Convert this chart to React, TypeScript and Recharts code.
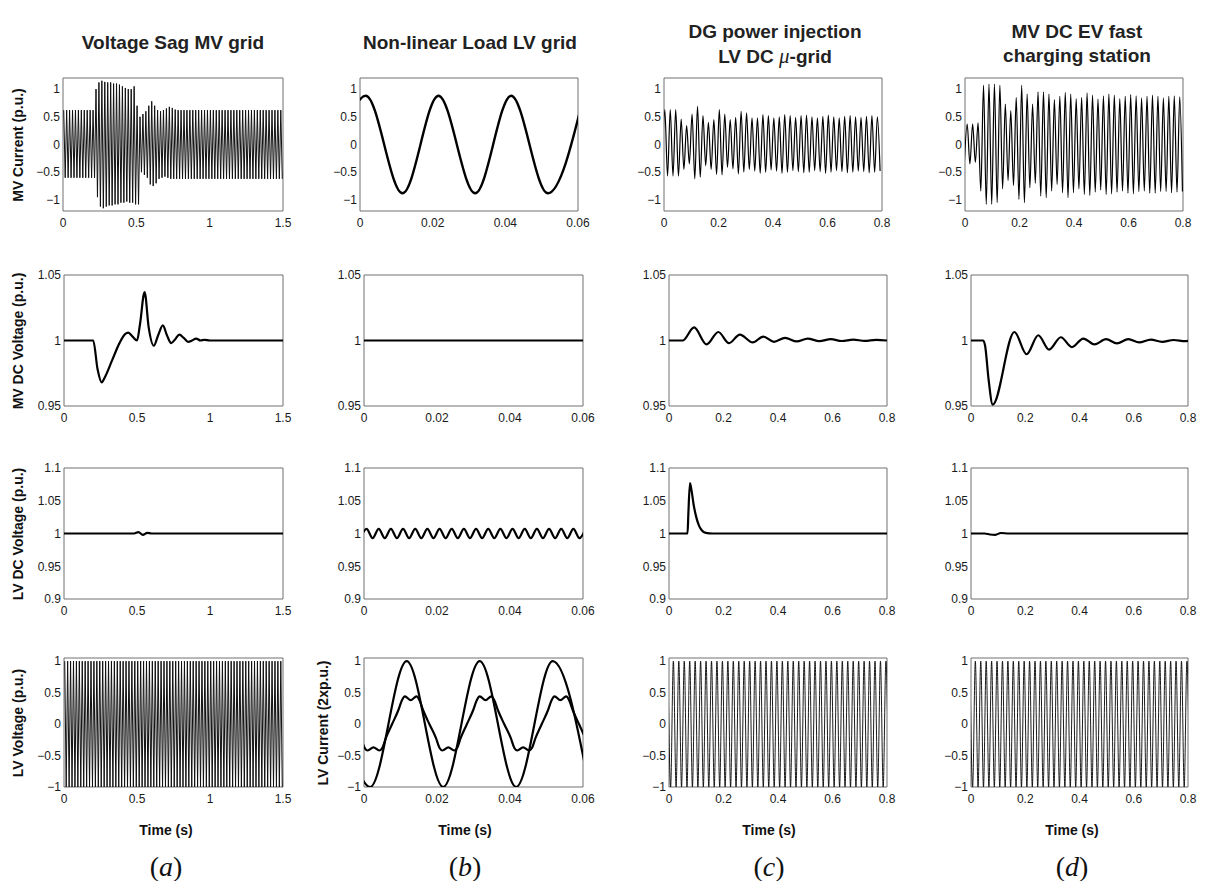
import React from 'react';
import { LineChart, Line, XAxis, YAxis, ReferenceArea } from 'recharts';

const FONT = '"Liberation Sans", Arial, Helvetica, sans-serif';

// ---------------- tick labels ----------------
const xTicksA = [0, 0.5, 1, 1.5];
const xTicksB = [0, 0.02, 0.04, 0.06];
const xTicksCD = [0, 0.2, 0.4, 0.6, 0.8];
const yTicksCurrent = [-1, -0.5, 0, 0.5, 1];
const yTicksMvDc = [0.95, 1, 1.05];
const yTicksLvDc = [0.9, 0.95, 1, 1.05, 1.1];
const yTicksLvVolt = [-1, -0.5, 0, 0.5, 1];

// ---------------- texts ----------------
const columnTitles = [
  ['Voltage Sag MV grid'],
  ['Non-linear Load LV grid'],
  ['DG power injection', 'LV DC \u03bc-grid'],
  ['MV DC EV fast', 'charging station'],
];
const rowLabels = ['MV Current (p.u.)', 'MV DC Voltage (p.u.)', 'LV DC Voltage (p.u.)', 'LV Voltage (p.u.)'];
const lvCurrentLabel = 'LV Current (2xp.u.)';
const timeLabel = 'Time (s)';
const panelLetters = ['a', 'b', 'c', 'd'];

// ---------------- column (a): voltage sag, MV grid ----------------
// MV current: successive half-cycle extremes, every 0.01 s from 0.005 s
const aMvCurrent = [
  0.62, -0.6, 0.62, -0.6, 0.62, -0.6, 0.62, -0.6, 0.62, -0.6,
  0.62, -0.6, 0.62, -0.6, 0.62, -0.6, 0.62, -0.6, 0.62, -0.6,
  0.62, -0.6,
  1.0, -0.95, 1.12, -1.12, 1.15, -1.15, 1.13, -1.12, 1.12, -1.1,
  1.12, -1.1, 1.1, -1.08, 1.1, -1.08, 1.08, -1.05, 1.05, -1.05,
  1.02, -1.03, 1.0, -1.05, 1.0, -1.05, 1.05, -1.08, 0.7, -1.08,
  0.5, -0.5, 0.55, -0.55, 0.6, -0.6, 0.7, -0.72, 0.78, -0.75,
  0.7, -0.7, 0.62, -0.62, 0.6, -0.6, 0.62, -0.58, 0.65, -0.6,
  0.68, -0.62, 0.66, -0.62, 0.63, -0.62,
  0.62, -0.62, 0.62, -0.62, 0.62, -0.62, 0.62, -0.62, 0.62, -0.62, 0.62, -0.62,
  0.62, -0.62, 0.62, -0.62, 0.62, -0.62, 0.62, -0.62, 0.62, -0.62, 0.62, -0.62,
  0.62, -0.62, 0.62, -0.62, 0.62, -0.62, 0.62, -0.62, 0.62, -0.62, 0.62, -0.62,
  0.62, -0.62, 0.62, -0.62, 0.62, -0.62, 0.62, -0.62, 0.62, -0.62, 0.62, -0.62,
  0.62, -0.62, 0.62, -0.62, 0.62, -0.62, 0.62, -0.62, 0.62, -0.62, 0.62, -0.62,
  0.62, -0.62, 0.62, -0.62, 0.62, -0.62, 0.62, -0.62, 0.62, -0.62, 0.62, -0.62,
];
const aMvDcTime = [0, 0.2, 0.23, 0.258, 0.28, 0.33, 0.38, 0.42, 0.44, 0.47, 0.5, 0.52, 0.552, 0.58, 0.615, 0.645, 0.677, 0.705, 0.734, 0.762, 0.79, 0.82, 0.85, 0.877, 0.905, 0.935, 0.96, 1.0, 1.5];
const aMvDcValue = [1, 1, 0.978, 0.968, 0.972, 0.985, 0.998, 1.005, 1.006, 1.003, 1.0, 1.012, 1.037, 1.01, 0.996, 1.004, 1.0115, 1.004, 0.998, 1.001, 1.0045, 1.002, 0.999, 1.0, 1.0015, 1.0, 1.0005, 1.0, 1.0];
const aLvDcTime = [0, 0.48, 0.51, 0.54, 0.57, 0.6, 1.5];
const aLvDcValue = [1, 1, 1.002, 0.998, 1.001, 1, 1];
// LV voltage: half-cycle extremes every 0.01 s from 0.005 s
const aLvVoltage = [
  1, -1, 1, -1, 1, -1, 1, -1, 1, -1, 1, -1, 1, -1, 1, -1, 1, -1, 1, -1,
  1, -1, 1, -1, 1, -1, 1, -1, 1, -1, 1, -1, 1, -1, 1, -1, 1, -1, 1, -1,
  1, -1, 1, -1, 1, -1, 1, -1, 1, -1, 1, -1, 1, -1, 1, -1, 1, -1, 1, -1,
  1, -1, 1, -1, 1, -1, 1, -1, 1, -1, 1, -1, 1, -1, 1, -1, 1, -1, 1, -1,
  1, -1, 1, -1, 1, -1, 1, -1, 1, -1, 1, -1, 1, -1, 1, -1, 1, -1, 1, -1,
  1, -1, 1, -1, 1, -1, 1, -1, 1, -1, 1, -1, 1, -1, 1, -1, 1, -1, 1, -1,
  1, -1, 1, -1, 1, -1, 1, -1, 1, -1, 1, -1, 1, -1, 1, -1, 1, -1, 1, -1,
  1, -1, 1, -1, 1, -1, 1, -1, 1, -1,
];

// ---------------- column (b): non-linear load, LV grid ----------------
const bMvCurrentTime = [-0.0084, 0.0016, 0.0117, 0.0216, 0.0317, 0.0416, 0.0517, 0.0616];
const bMvCurrentValue = [-0.88, 0.88, -0.88, 0.88, -0.88, 0.88, -0.88, 0.88];
const bMvDcTime = [0, 0.06];
const bMvDcValue = [1, 1];
// LV DC ripple: half-cycle extremes every 0.001667 s from -0.00097 s
const bLvDcRipple = [
  0.993, 1.007, 0.993, 1.007, 0.993, 1.007, 0.993, 1.007, 0.993, 1.007,
  0.993, 1.007, 0.993, 1.007, 0.993, 1.007, 0.993, 1.007, 0.993, 1.007,
  0.993, 1.007, 0.993, 1.007, 0.993, 1.007, 0.993, 1.007, 0.993, 1.007,
  0.993, 1.007, 0.993, 1.007, 0.993, 1.007, 0.993, 1.007,
];
const bLvSineTime = [-0.0083, 0.0017, 0.0117, 0.0217, 0.0317, 0.0417, 0.0517, 0.0617];
const bLvSineValue = [1, -1, 1, -1, 1, -1, 1, -1];
const bLoadCurrentTime = [
  -0.0008, 0.0002, 0.001, 0.0026, 0.0042, 0.005, 0.006, 0.0077,
  0.0094, 0.0104, 0.0112, 0.0128, 0.0144, 0.0152, 0.0162, 0.0179,
  0.0197, 0.0207, 0.0215, 0.0231, 0.0247, 0.0255, 0.0265, 0.0282,
  0.0299, 0.0309, 0.0317, 0.0333, 0.0349, 0.0357, 0.0367, 0.0384,
  0.0402, 0.0412, 0.042, 0.0436, 0.0452, 0.046, 0.047, 0.0487,
  0.0504, 0.0514, 0.0522, 0.0538, 0.0554, 0.0562, 0.0572, 0.0589, 0.0606,
];
const bLoadCurrentValue = [
  -0.22, -0.38, -0.42, -0.37, -0.42, -0.38, -0.22, 0,
  0.22, 0.38, 0.44, 0.38, 0.44, 0.38, 0.22, 0,
  -0.22, -0.38, -0.42, -0.37, -0.42, -0.38, -0.22, 0,
  0.22, 0.38, 0.44, 0.38, 0.44, 0.38, 0.22, 0,
  -0.22, -0.38, -0.42, -0.37, -0.42, -0.38, -0.22, 0,
  0.22, 0.38, 0.44, 0.38, 0.44, 0.38, 0.22, 0, -0.22,
];

// ---------------- column (c): DG power injection, LV DC micro-grid ----------------
// MV current: half-cycle extremes every 0.01 s from -0.007 s
const cMvCurrent = [
  -0.57,
  0.63, -0.57, 0.63, -0.57, 0.63, -0.57, 0.46, -0.45, 0.34, -0.35,
  0.55, -0.62, 0.69, -0.59, 0.52, -0.38, 0.4, -0.45, 0.45, -0.54,
  0.63, -0.55, 0.55, -0.41, 0.45, -0.44, 0.49, -0.53, 0.6, -0.5,
  0.57, -0.45, 0.48, -0.48, 0.48, -0.52, 0.54, -0.5, 0.52, -0.46,
  0.48, -0.48, 0.5, -0.52, 0.54, -0.5, 0.52, -0.47, 0.49, -0.49,
  0.52, -0.51, 0.53, -0.5, 0.5, -0.47, 0.48, -0.49, 0.51, -0.52,
  0.53, -0.5, 0.5, -0.47, 0.48, -0.49, 0.51, -0.51, 0.52, -0.5,
  0.5, -0.48, 0.49, -0.49, 0.51, -0.51, 0.52, -0.5, 0.5, -0.48,
];
const cMvDcTime = [0, 0.05, 0.092, 0.138, 0.181, 0.22, 0.26, 0.307, 0.346, 0.385, 0.426, 0.469, 0.509, 0.552, 0.594, 0.634, 0.676, 0.718, 0.76, 0.8];
const cMvDcValue = [1, 1, 1.01, 0.997, 1.0065, 0.998, 1.0045, 0.9985, 1.003, 0.999, 1.002, 0.9993, 1.0015, 0.9995, 1.001, 0.9996, 1.0007, 0.9997, 1.0005, 1.0];
const cLvDcTime = [0, 0.068, 0.071, 0.077, 0.083, 0.09, 0.1, 0.11, 0.12, 0.135, 0.16, 0.8];
const cLvDcValue = [1, 1, 1.03, 1.077, 1.065, 1.045, 1.025, 1.012, 1.005, 1.001, 1.0, 1.0];
// LV voltage: half-cycle extremes every 0.01 s from -0.004 s
const cLvVoltage = [
  1, -1, 1, -1, 1, -1, 1, -1, 1, -1, 1, -1, 1, -1, 1, -1, 1, -1, 1, -1,
  1, -1, 1, -1, 1, -1, 1, -1, 1, -1, 1, -1, 1, -1, 1, -1, 1, -1, 1, -1,
  1, -1, 1, -1, 1, -1, 1, -1, 1, -1, 1, -1, 1, -1, 1, -1, 1, -1, 1, -1,
  1, -1, 1, -1, 1, -1, 1, -1, 1, -1, 1, -1, 1, -1, 1, -1, 1, -1, 1, -1,
  1, -1,
];

// ---------------- column (d): MV DC EV fast charging station ----------------
// MV current: half-cycle extremes every 0.01 s from -0.002 s
const dMvCurrent = [
  -0.3,
  0.37, -0.35, 0.37, -0.32, 0.39, -0.84, 1.07, -1.08, 1.09, -1.08,
  1.09, -1.05, 1.07, -0.8, 0.73, -0.65, 0.61, -0.74, 0.85, -0.99,
  1.07, -1.05, 0.91, -0.78, 0.73, -0.7, 0.95, -0.93, 0.95, -0.96,
  0.91, -0.84, 0.81, -0.72, 0.87, -0.87, 0.94, -0.96, 0.91, -0.87,
  0.83, -0.8, 0.85, -0.9, 0.93, -0.92, 0.89, -0.86, 0.82, -0.82,
  0.88, -0.9, 0.91, -0.89, 0.89, -0.86, 0.83, -0.84, 0.87, -0.88,
  0.9, -0.89, 0.88, -0.85, 0.84, -0.84, 0.87, -0.88, 0.89, -0.88,
  0.87, -0.85, 0.84, -0.85, 0.87, -0.87, 0.88, -0.86, 0.86, -0.85,
];
const dMvDcTime = [0, 0.045, 0.052, 0.065, 0.08, 0.16, 0.205, 0.248, 0.288, 0.331, 0.372, 0.414, 0.455, 0.498, 0.538, 0.58, 0.62, 0.663, 0.705, 0.747, 0.79, 0.8];
const dMvDcValue = [1, 1, 0.996, 0.97, 0.951, 1.0065, 0.9895, 1.004, 0.993, 1.0025, 0.995, 1.0015, 0.997, 1.001, 0.9978, 1.001, 0.9985, 1.0007, 0.999, 1.0004, 0.9995, 0.9997];
const dLvDcTime = [0, 0.05, 0.07, 0.09, 0.11, 0.14, 0.8];
const dLvDcValue = [1, 1, 0.9985, 0.998, 1.0008, 1.0, 1.0];
const dLvVoltage = [
  1, -1, 1, -1, 1, -1, 1, -1, 1, -1, 1, -1, 1, -1, 1, -1, 1, -1, 1, -1,
  1, -1, 1, -1, 1, -1, 1, -1, 1, -1, 1, -1, 1, -1, 1, -1, 1, -1, 1, -1,
  1, -1, 1, -1, 1, -1, 1, -1, 1, -1, 1, -1, 1, -1, 1, -1, 1, -1, 1, -1,
  1, -1, 1, -1, 1, -1, 1, -1, 1, -1, 1, -1, 1, -1, 1, -1, 1, -1, 1, -1,
  1, -1,
];

// ---------------- helpers ----------------
type Pt = { t: number; v: number };
const seq = (t0: number, step: number, vals: number[]): Pt[] =>
  vals.map((v, i) => ({ t: +(t0 + i * step).toFixed(6), v }));
const pairs = (ts: number[], vs: number[]): Pt[] => ts.map((t, i) => ({ t, v: vs[i] }));
const fmt = (v: number) => (v < 0 ? '\u2212' + String(-v) : String(v));

type Series = { data: Pt[]; w: number; curve?: 'linear' | 'monotone'; color?: string };
type PanelProps = {
  x: number; y: number; w: number; h: number;
  xd: [number, number]; yd: [number, number];
  xt: number[]; yt: number[]; series: Series[];
};

const ML = 46, MR = 22, MT = 8, MB = 26;
const tickStyle = { fontSize: 12, fill: '#1a1a1a', fontFamily: FONT };

function Panel({ x, y, w, h, xd, yd, xt, yt, series }: PanelProps) {
  return (
    <div style={{ position: 'absolute', left: x - ML, top: y - MT }}>
      <LineChart width={w + ML + MR} height={h + MT + MB} margin={{ top: MT, right: MR, left: 0, bottom: 0 }}>
        <XAxis type="number" dataKey="t" domain={xd} ticks={xt} interval={0} allowDataOverflow height={MB}
          axisLine={false} tickLine={false} tickSize={0} tickMargin={7} tick={tickStyle} tickFormatter={fmt} />
        <YAxis type="number" dataKey="v" domain={yd} ticks={yt} interval={0} allowDataOverflow width={ML}
          axisLine={false} tickLine={false} tickSize={0} tickMargin={3} tick={tickStyle} tickFormatter={fmt} />
        <ReferenceArea x1={xd[0]} x2={xd[1]} y1={yd[0]} y2={yd[1]} fill="none" fillOpacity={0}
          stroke="#707070" strokeWidth={1} ifOverflow="visible" />
        {series.map((s, i) => (
          <Line key={i} data={s.data} dataKey="v" type={s.curve || 'linear'} dot={false} activeDot={false}
            stroke={s.color || '#000'} strokeWidth={s.w} isAnimationActive={false} />
        ))}
      </LineChart>
    </div>
  );
}

// layout (plot-area rectangles)
const rowBox = [
  { top: 78, h: 133 },
  { top: 275, h: 131 },
  { top: 468, h: 131 },
  { top: 658, h: 129 },
];
const colBoxRow1 = [
  { left: 63, w: 220 }, { left: 360, w: 218 }, { left: 664, w: 218 }, { left: 965, w: 218 },
];
const colBox = [
  { left: 64, w: 219 }, { left: 364, w: 219 }, { left: 669, w: 218 }, { left: 971, w: 217 },
];
const titleCenters = [173, 470, 775, 1077];
const bottomCenters = [166, 465, 769, 1072];

export default function App() {
  const xdA: [number, number] = [0, 1.5];
  const xdB: [number, number] = [0, 0.06];
  const xdCD: [number, number] = [0, 0.8];
  const ydCur: [number, number] = [-1.2, 1.2];
  const ydMv: [number, number] = [0.95, 1.05];
  const ydLv: [number, number] = [0.9, 1.1];
  const ydV: [number, number] = [-1, 1.05];

  const xds = [xdA, xdB, xdCD, xdCD];
  const xts = [xTicksA, xTicksB, xTicksCD, xTicksCD];

  const rows: { yd: [number, number]; yt: number[]; cols: Series[][] }[] = [
    {
      yd: ydCur, yt: yTicksCurrent, cols: [
        [{ data: seq(0.005, 0.01, aMvCurrent), w: 1.0, color: '#111' }],
        [{ data: pairs(bMvCurrentTime, bMvCurrentValue), w: 2.4, curve: 'monotone' }],
        [{ data: seq(-0.007, 0.01, cMvCurrent), w: 1.2, curve: 'monotone' }],
        [{ data: seq(-0.002, 0.01, dMvCurrent), w: 1.2, curve: 'monotone' }],
      ],
    },
    {
      yd: ydMv, yt: yTicksMvDc, cols: [
        [{ data: pairs(aMvDcTime, aMvDcValue), w: 2.2, curve: 'monotone' }],
        [{ data: pairs(bMvDcTime, bMvDcValue), w: 2.2 }],
        [{ data: pairs(cMvDcTime, cMvDcValue), w: 2.2, curve: 'monotone' }],
        [{ data: pairs(dMvDcTime, dMvDcValue), w: 2.2, curve: 'monotone' }],
      ],
    },
    {
      yd: ydLv, yt: yTicksLvDc, cols: [
        [{ data: pairs(aLvDcTime, aLvDcValue), w: 2.2, curve: 'monotone' }],
        [{ data: seq(-0.00097, 0.0016667, bLvDcRipple), w: 2.2, curve: 'monotone' }],
        [{ data: pairs(cLvDcTime, cLvDcValue), w: 2.2, curve: 'monotone' }],
        [{ data: pairs(dLvDcTime, dLvDcValue), w: 2.2, curve: 'monotone' }],
      ],
    },
    {
      yd: ydV, yt: yTicksLvVolt, cols: [
        [{ data: seq(0.005, 0.01, aLvVoltage), w: 1.0, color: '#111' }],
        [
          { data: pairs(bLvSineTime, bLvSineValue), w: 2.2, curve: 'monotone' },
          { data: pairs(bLoadCurrentTime, bLoadCurrentValue), w: 2.2, curve: 'monotone' },
        ],
        [{ data: seq(-0.004, 0.01, cLvVoltage), w: 0.9, curve: 'monotone' }],
        [{ data: seq(-0.004, 0.01, dLvVoltage), w: 0.9, curve: 'monotone' }],
      ],
    },
  ];

  return (
    <div style={{ position: 'absolute', left: 0, top: 0, width: 1206, height: 881, background: '#fff', overflow: 'hidden', fontFamily: FONT }}>
      {columnTitles.map((lines, c) => (
        <div key={'t' + c} style={{
          position: 'absolute', left: titleCenters[c] - 160, width: 320, top: lines.length === 1 ? 31 : 20,
          textAlign: 'center', fontWeight: 'bold', fontSize: 19, lineHeight: '24px', color: '#222',
        }}>
          {lines.map((ln, i) => (
            <div key={i}>
              {ln.includes('\u03bc') ? (
                <>
                  {ln.split('\u03bc')[0]}
                  <span style={{ fontFamily: '"Liberation Serif", "DejaVu Serif", serif', fontStyle: 'italic', fontWeight: 'normal', fontSize: 21 }}>{'\u03bc'}</span>
                  {ln.split('\u03bc')[1]}
                </>
              ) : ln}
            </div>
          ))}
        </div>
      ))}

      {rows.map((row, r) =>
        row.cols.map((series, c) => {
          const cb = r === 0 ? colBoxRow1[c] : colBox[c];
          return (
            <Panel key={r + '-' + c} x={cb.left} y={rowBox[r].top} w={cb.w} h={rowBox[r].h}
              xd={xds[c]} yd={row.yd} xt={xts[c]} yt={row.yt} series={series} />
          );
        })
      )}

      {rowLabels.map((lab, r) => (
        <div key={'yl' + r} style={{
          position: 'absolute', left: 18, top: rowBox[r].top + rowBox[r].h / 2,
          transform: 'translate(-50%, -50%) rotate(-90deg)', whiteSpace: 'nowrap',
          fontWeight: 'bold', fontSize: 14, color: '#111',
        }}>{lab}</div>
      ))}
      <div style={{
        position: 'absolute', left: 323, top: rowBox[3].top + rowBox[3].h / 2,
        transform: 'translate(-50%, -50%) rotate(-90deg)', whiteSpace: 'nowrap',
        fontWeight: 'bold', fontSize: 14, color: '#111',
      }}>{lvCurrentLabel}</div>

      {bottomCenters.map((cx, c) => (
        <React.Fragment key={'b' + c}>
          <div style={{
            position: 'absolute', left: cx - 60, width: 120, top: 821, textAlign: 'center',
            fontWeight: 'bold', fontSize: 14, color: '#111', lineHeight: '18px',
          }}>{timeLabel}</div>
          <div style={{
            position: 'absolute', left: cx - 60, width: 120, top: 850, textAlign: 'center',
            fontFamily: '"Liberation Serif", "DejaVu Serif", serif', fontSize: 28, lineHeight: '34px', color: '#111',
          }}>
            ({<span style={{ fontStyle: 'italic' }}>{panelLetters[c]}</span>})
          </div>
        </React.Fragment>
      ))}
    </div>
  );
}
